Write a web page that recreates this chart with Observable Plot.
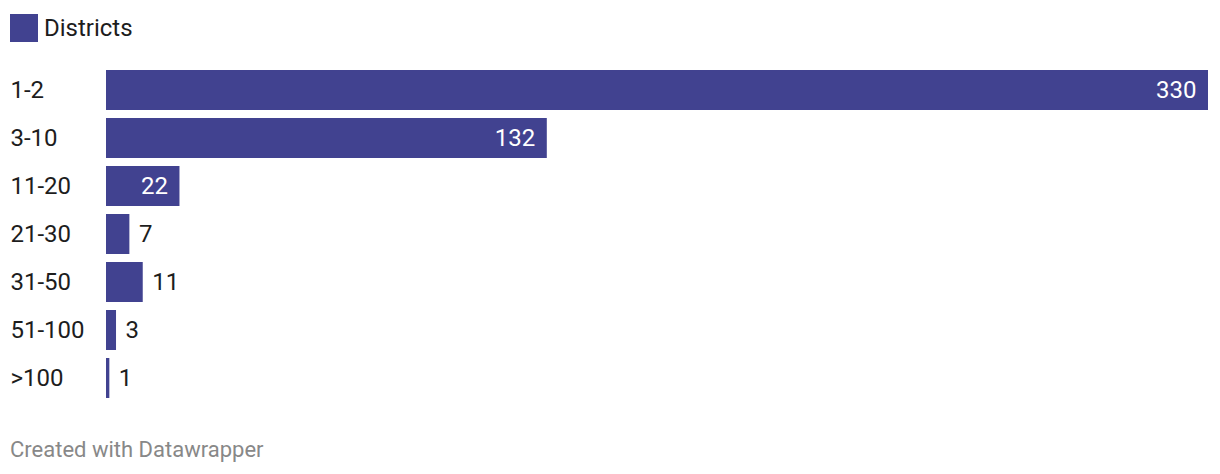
<!DOCTYPE html>
<html>
<head>
<meta charset="utf-8">
<script src="https://cdn.jsdelivr.net/npm/d3@7"></script>
<script src="https://cdn.jsdelivr.net/npm/@observablehq/plot@0.6"></script>
<style>
  html, body { margin: 0; padding: 0; background: #fff; }
  body { font-family: Roboto, "Noto Sans", sans-serif; width: 1220px; height: 474px; position: relative; overflow: hidden; }
  #legend { position: absolute; left: 10px; top: 14px; display: flex; align-items: center; font-size: 24px; color: #1d1d1d; }
  #legend .sw { width: 28px; height: 28px; background: #414290; margin-right: 6px; }
  #chart { position: absolute; left: 0; top: 56px; }
  #caption { position: absolute; left: 10px; top: 438px; font-size: 22px; color: #888; line-height: 24px; }
</style>
</head>
<body>
<div id="legend"><div class="sw"></div><span>Districts</span></div>
<div id="chart"></div>
<div id="caption">Created with Datawrapper</div>
<script>
const categories = ["1-2", "3-10", "11-20", "21-30", "31-50", "51-100", ">100"];
const districts = [330, 132, 22, 7, 11, 3, 1];

const data = categories.map((c, i) => ({category: c, value: districts[i]}));
const barColor = "#414290";
const inside = d => d.value >= 20;

const chart = Plot.plot({
  width: 1220,
  height: 356,
  marginLeft: 106,
  marginRight: 12,
  marginTop: 10,
  marginBottom: 10,
  style: {fontFamily: "Roboto, 'Noto Sans', sans-serif", background: "transparent"},
  x: {domain: [0, 330], axis: null},
  y: {domain: categories, paddingInner: 1/6, paddingOuter: 1/12, axis: null},
  marks: [
    Plot.barX(data, {x: "value", y: "category", fill: barColor}),
    Plot.text(data, {y: "category", text: "category", frameAnchor: "left", textAnchor: "start", dx: -96, fill: "#1d1d1d", fontSize: 24}),
    Plot.text(data.filter(inside), {x: "value", y: "category", text: d => String(d.value), textAnchor: "end", dx: -12, fill: "#fff", fontSize: 24}),
    Plot.text(data.filter(d => !inside(d)), {x: "value", y: "category", text: d => String(d.value), textAnchor: "start", dx: 9, fill: "#1d1d1d", fontSize: 24})
  ]
});
document.getElementById("chart").appendChild(chart);
</script>
</body>
</html>
